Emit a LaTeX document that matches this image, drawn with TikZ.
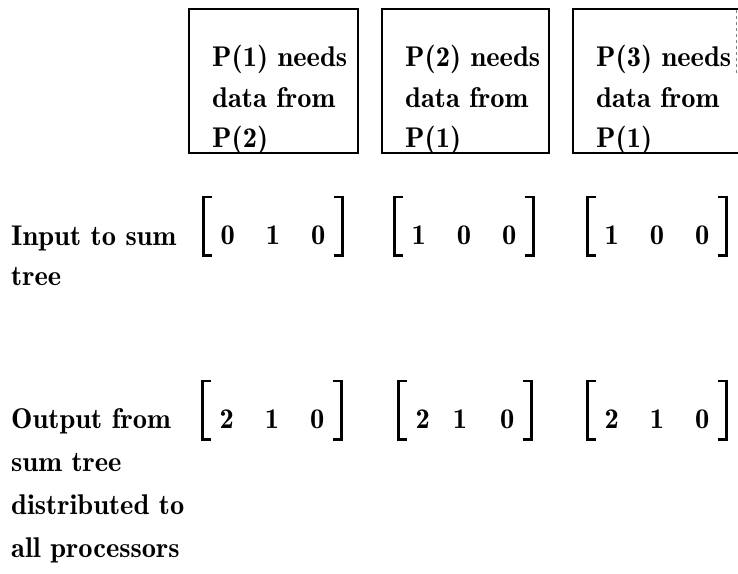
\documentclass[tikz,border=0pt]{standalone}
\usepackage{tikz}
\usetikzlibrary{positioning,calc}
\newcommand{\figfont}{\fontsize{28.5}{42}\fontseries{b}\selectfont}
\newcommand{\brackets}[1]{%
  \draw[brak] ([xshift=9pt]#1.north west) -- (#1.north west) -- (#1.south west) -- ([xshift=9pt]#1.south west);
  \draw[brak] ([xshift=-9pt]#1.north east) -- (#1.north east) -- (#1.south east) -- ([xshift=-9pt]#1.south east);}
\tikzset{
  pbox/.style={draw, line width=1.8pt, anchor=north west, minimum height=144pt, inner sep=0pt},
  labeltext/.style={font=\figfont, align=left, anchor=base west, inner sep=0pt},
  vec/.style={font=\figfont, anchor=base, text height=36pt, text depth=0pt, inner xsep=17pt, inner ysep=11pt},
  brak/.style={line width=2.6pt}
}
\begin{document}
\begin{tikzpicture}[x=1pt,y=-1pt]
    \useasboundingbox (0,0) rectangle (738,573);
    \clip (0,0) rectangle (738,573);

    % Processor boxes (the third one runs off the page)
    \node[pbox, minimum width=169pt] (box1) at (188,8) {};
    \node[pbox, minimum width=167pt] (box2) at (381,8) {};
    \node[pbox, minimum width=190pt] (box3) at (572,8) {};
    \draw[gray, dashed, line width=0.8pt] (box3.north west) ++(164,2) -- ++(0,65);

    % anchor is the baseline of the last line
    \node[labeltext] (need1) at ($(box1.north west)+(24,139)$) {P(1) needs\\[-1pt]data from\\[-2pt]P(2)};
    \node[labeltext] (need2) at ($(box2.north west)+(24,139)$) {P(2) needs\\[-1pt]data from\\[-2pt]P(1)};
    \node[labeltext] (need3) at ($(box3.north west)+(24,139)$) {P(3) needs\\[-1pt]data from\\[-2pt]P(1)};

    % Row labels
    \node[labeltext] (inlabel) at (11,285) {Input to sum\\[-2pt]tree};
    \node[labeltext] (outlabel) at (11,557) {Output from\\[1pt]sum tree\\[1pt]distributed to\\[1pt]all processors};

    % Vectors
    \node[vec] (in1) at (273,244) {0\hspace{31pt}1\hspace{31pt}0};
    \node[vec] (in2) at (464,244) {1\hspace{31pt}0\hspace{31pt}0};
    \node[vec] (in3) at (657,244) {1\hspace{31pt}0\hspace{31pt}0};
    \node[vec] (out1) at (272,428) {2\hspace{31pt}1\hspace{31pt}0};
    \node[vec] (out2) at (465,428) {2\hspace{23pt}1\hspace{33pt}0};
    \node[vec] (out3) at (657,428) {2\hspace{31pt}1\hspace{31pt}0};
    \foreach \v in {in1,in2,in3,out1,out2,out3} {\brackets{\v}}
\end{tikzpicture}
\end{document}
